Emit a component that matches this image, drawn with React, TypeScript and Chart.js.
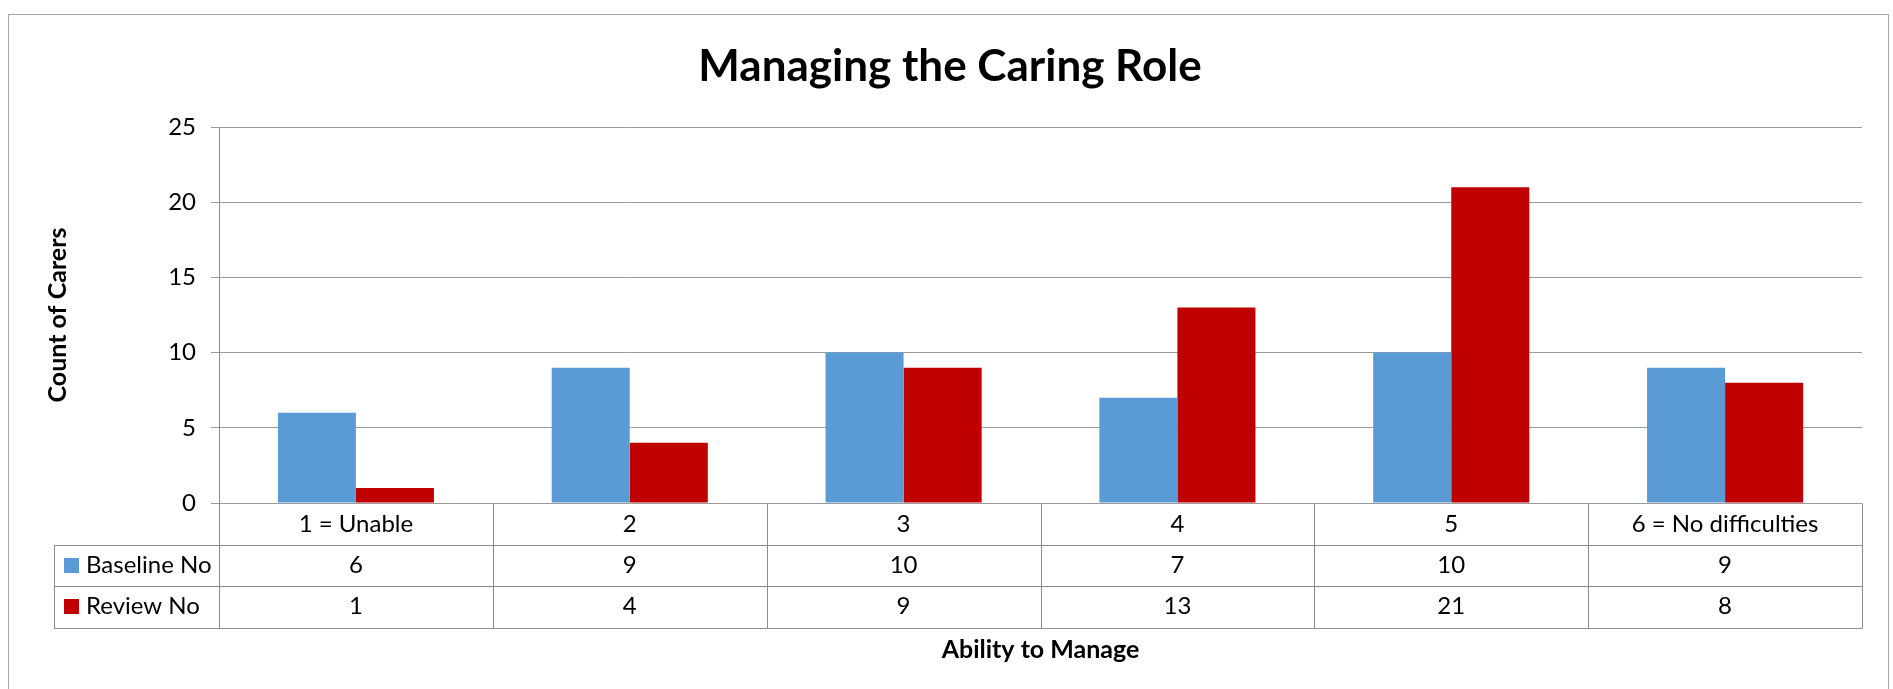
import React, { useEffect, useRef } from "react";
import { Chart, registerables } from "chart.js";

Chart.register(...registerables);

// ---------- data ----------
const categories = ["1 = Unable", "2", "3", "4", "5", "6 = No difficulties"];
const baselineValues = [6, 9, 10, 7, 10, 9];
const reviewValues = [1, 4, 9, 13, 21, 8];
const yTickValues = [0, 5, 10, 15, 20, 25];
const seriesLabels = ["Baseline No", "Review No"];
const seriesColors = ["#5B9BD5", "#C00000"];
const chartTitle = "Managing the Caring Role";
const xAxisTitle = "Ability to Manage";
const yAxisTitle = "Count of Carers";

// ---------- layout / style ----------
const FONT = "Lato, 'Open Sans', sans-serif";
const W = 1893;
const H = 689;
const PAD_LEFT = 7;
const PLOT_LEFT = 219;
const PLOT_RIGHT = 1862;
const PLOT_BOTTOM = 503;
const ROW_H = 41.5;
const LEGEND_LEFT = 54;
const LINE = "#8c8c8c";
const GRID = "#9a9a9a";
const LABEL_SIZE = 24;
const AXIS_TITLE_SIZE = 25;

const px = (v: number) => Math.round(v) + 0.5;

const tablePlugin = {
  id: "dataTable",
  beforeDraw(chart: any) {
    const ctx = chart.ctx;
    ctx.save();
    ctx.fillStyle = "#ffffff";
    ctx.fillRect(0, 0, chart.width, chart.height);
    ctx.strokeStyle = "#a6a6a6";
    ctx.lineWidth = 1;
    ctx.strokeRect(8.5, 14.5, 1880, 800);
    ctx.restore();
  },
  afterDraw(chart: any) {
    const { ctx, chartArea, scales } = chart;
    const xs = scales.x;
    const ys = scales.y;
    const top = ys.getPixelForValue(0);
    const rows = [top, top + ROW_H, top + 2 * ROW_H, top + 3 * ROW_H];
    const n = chart.data.labels.length;
    const bounds: number[] = [chartArea.left];
    for (let i = 1; i < n; i++) {
      bounds.push((xs.getPixelForTick(i - 1) + xs.getPixelForTick(i)) / 2);
    }
    bounds.push(chartArea.right);

    ctx.save();
    ctx.strokeStyle = LINE;
    ctx.lineWidth = 1;
    ctx.beginPath();
    for (let r = 1; r < rows.length; r++) {
      ctx.moveTo(LEGEND_LEFT, px(rows[r]));
      ctx.lineTo(chartArea.right, px(rows[r]));
    }
    bounds.forEach((b) => {
      ctx.moveTo(px(b), px(rows[0]));
      ctx.lineTo(px(b), px(rows[3]));
    });
    ctx.moveTo(px(LEGEND_LEFT), px(rows[1]));
    ctx.lineTo(px(LEGEND_LEFT), px(rows[3]));
    ctx.stroke();

    ctx.font = `${LABEL_SIZE}px ${FONT}`;
    ctx.textBaseline = "middle";
    chart.data.datasets.forEach((ds: any, r: number) => {
      const cy = (rows[r + 1] + rows[r + 2]) / 2;
      ctx.fillStyle = "#000000";
      ctx.textAlign = "center";
      ds.data.forEach((v: number, i: number) => {
        ctx.fillText(String(v), xs.getPixelForTick(i), cy);
      });
      ctx.fillStyle = ds.backgroundColor;
      ctx.fillRect(LEGEND_LEFT + 10, Math.round(cy - 7.5), 15, 15);
      ctx.fillStyle = "#000000";
      ctx.textAlign = "left";
      ctx.fillText(ds.label, LEGEND_LEFT + 32, cy);
    });
    ctx.restore();
  },
};

export default function App() {
  const canvasRef = useRef<HTMLCanvasElement | null>(null);

  useEffect(() => {
    if (!canvasRef.current) return;
    const chart = new Chart(canvasRef.current, {
      type: "bar",
      data: {
        labels: categories,
        datasets: [
          {
            label: seriesLabels[0],
            data: baselineValues,
            backgroundColor: seriesColors[0],
            categoryPercentage: 0.57,
            barPercentage: 1,
            yAxisID: "y",
          },
          {
            label: seriesLabels[1],
            data: reviewValues,
            backgroundColor: seriesColors[1],
            categoryPercentage: 0.57,
            barPercentage: 1,
            yAxisID: "y",
          },
        ],
      },
      options: {
        responsive: false,
        animation: false,
        devicePixelRatio: 1,
        layout: { padding: { left: PAD_LEFT, right: 0, top: 0, bottom: 0 } },
        plugins: {
          legend: { display: false },
          tooltip: { enabled: false },
          title: {
            display: true,
            text: chartTitle,
            color: "#000000",
            font: { family: FONT, size: 44, weight: "bold", lineHeight: 1.2 },
            padding: { top: 40, bottom: 34.2 },
          },
        },
        scales: {
          x: {
            afterFit: (s: any) => {
              s.height = H - PLOT_BOTTOM;
            },
            grid: { display: false, drawTicks: false },
            border: { display: false },
            ticks: {
              color: "#000000",
              padding: 7,
              maxRotation: 0,
              autoSkip: false,
              font: { family: FONT, size: LABEL_SIZE },
            },
            title: {
              display: true,
              text: xAxisTitle,
              color: "#000000",
              font: { family: FONT, size: AXIS_TITLE_SIZE, weight: "bold", lineHeight: 1.2 },
              padding: { top: 0, bottom: 24 },
            },
          },
          y: {
            min: 0,
            max: 25,
            afterFit: (s: any) => {
              s.width = PLOT_LEFT - PAD_LEFT;
            },
            afterBuildTicks: (s: any) => {
              s.ticks = yTickValues.map((v) => ({ value: v }));
            },
            grid: { color: GRID, lineWidth: 1, drawTicks: true, tickLength: 8, tickColor: GRID },
            border: { display: true, color: LINE, width: 1 },
            ticks: {
              color: "#000000",
              padding: 15,
              font: { family: FONT, size: LABEL_SIZE },
            },
            title: {
              display: true,
              text: yAxisTitle,
              color: "#000000",
              font: { family: FONT, size: AXIS_TITLE_SIZE, weight: "bold", lineHeight: 1.2 },
              padding: { top: 43 - PAD_LEFT, bottom: 0 },
            },
          },
          yRight: {
            type: "linear",
            position: "right",
            display: true,
            afterFit: (s: any) => {
              s.width = W - PLOT_RIGHT;
            },
            grid: { display: false, drawTicks: false },
            border: { display: false },
            ticks: { display: false },
            title: { display: false },
          },
        },
      },
      plugins: [tablePlugin],
    } as any);
    return () => chart.destroy();
  }, []);

  return (
    <div style={{ position: "absolute", left: 0, top: 0, width: W, height: H, background: "#fff" }}>
      <canvas ref={canvasRef} width={W} height={H} style={{ display: "block", width: W, height: H }} />
    </div>
  );
}
